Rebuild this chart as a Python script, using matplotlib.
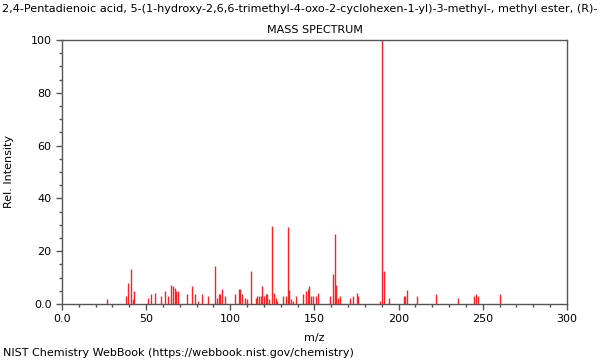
import matplotlib
matplotlib.use("Agg")
import matplotlib.pyplot as plt
from matplotlib.ticker import MultipleLocator, FuncFormatter

title = "2,4-Pentadienoic acid, 5-(1-hydroxy-2,6,6-trimethyl-4-oxo-2-cyclohexen-1-yl)-3-methyl-, methyl ester, (R)-"

# m/z and relative intensity
mz = [27, 38, 39, 41, 42, 43, 51, 53, 55, 59, 61, 63, 65, 66, 67, 68, 69,
      74, 77, 79, 81, 83, 87, 91, 92, 93, 94, 95, 97,
      103, 105, 106, 107, 109, 110, 112, 115, 116, 117, 118, 119, 120, 121, 122, 123,
      125, 126, 127, 128, 131, 133, 134, 135, 136, 137, 139,
      143, 145, 146, 147, 148, 149, 151, 152, 159, 161, 162, 163, 164, 165,
      171, 173, 175, 176, 189, 190, 191, 194, 203, 204, 205, 211,
      222, 235, 245, 246, 247, 260]
intensity = [1.8, 3.0, 7.8, 13.3, 1.8, 4.9, 2.4, 3.8, 4.3, 3.0, 4.9, 3.0, 7.3, 6.7, 5.9, 4.9, 4.9,
             3.8, 6.8, 3.8, 1.2, 3.8, 3.0, 14.5, 2.4, 3.8, 3.8, 5.6, 3.0,
             3.8, 5.6, 5.6, 3.8, 2.4, 1.8, 12.6, 2.4, 3.0, 3.0, 3.0, 6.8, 3.0, 3.8, 3.8, 1.8,
             29.5, 4.3, 2.4, 1.2, 3.0, 3.0, 29.0, 5.3, 1.8, 1.2, 3.0,
             3.8, 4.9, 5.6, 6.8, 3.0, 3.0, 3.0, 4.3, 3.0, 11.4, 26.5, 7.3, 2.4, 3.0,
             2.4, 3.0, 4.3, 3.0, 1.2, 100.0, 12.6, 2.4, 3.0, 3.0, 5.3, 3.0,
             3.8, 2.4, 3.0, 3.8, 3.0, 3.8]

fig = plt.figure(figsize=(6, 3.6), dpi=100)
ax = fig.add_axes([0.1033, 0.1556, 0.8417, 0.7333])

ax.vlines(mz, 0, intensity, color="#ff2020", linewidth=1.0)

ax.set_xlim(0.5, 300.5)
ax.set_ylim(0, 100)
ax.xaxis.set_major_locator(MultipleLocator(50))
ax.xaxis.set_minor_locator(MultipleLocator(10))
ax.yaxis.set_major_locator(MultipleLocator(20))
ax.yaxis.set_minor_locator(MultipleLocator(5))
fmt = FuncFormatter(lambda v, p: "0.0" if v == 0 else f"{v:.0f}")
ax.xaxis.set_major_formatter(fmt)
ax.yaxis.set_major_formatter(fmt)
ax.set_xlim(0, 300)

for s in ax.spines.values():
    s.set_color("#555555")
    s.set_linewidth(1.0)
ax.tick_params(which="major", length=4, width=1, color="#555555", labelsize=8)
ax.tick_params(which="minor", length=2.5, width=1, color="#555555")
ax.tick_params(top=False, right=False)

ax.set_xlabel("m/z", fontsize=8, labelpad=6)
ax.set_ylabel("Rel. Intensity", fontsize=8, labelpad=12)
ax.set_title("MASS SPECTRUM", fontsize=8, pad=5)

fig.text(0.5, 0.975, title, ha="center", va="center", fontsize=8.1)
fig.text(0.005, 0.02, "NIST Chemistry WebBook (https://webbook.nist.gov/chemistry)",
         ha="left", va="center", fontsize=8)

fig.savefig("out.png", dpi=100)
